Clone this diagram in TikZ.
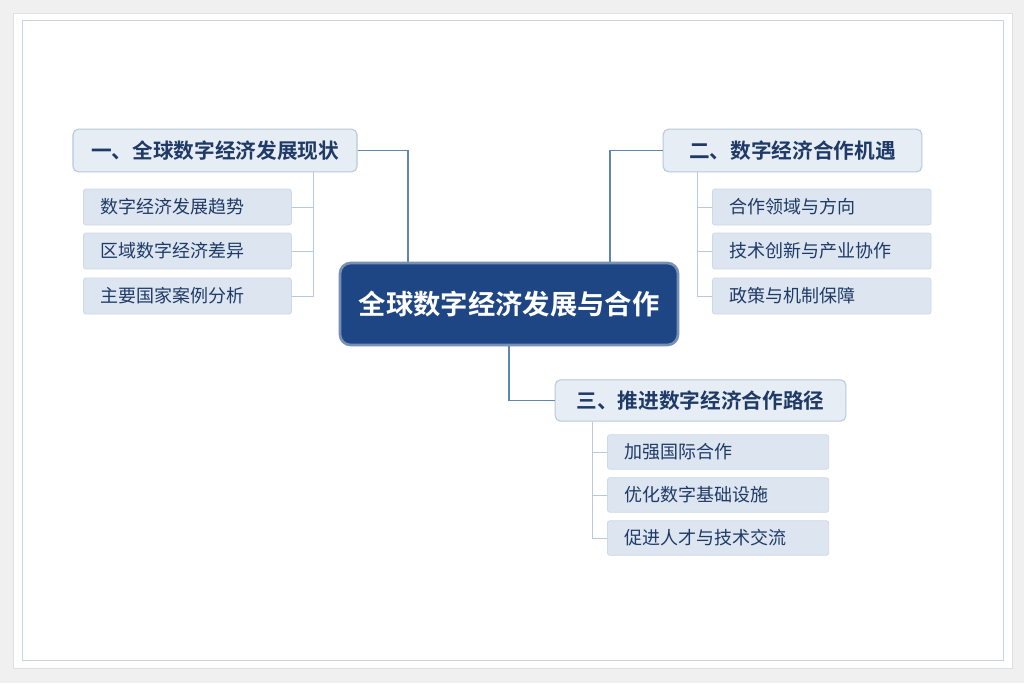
\documentclass[tikz,border=0pt]{standalone}
\usepackage{fontspec}
\setmainfont{Noto Sans CJK SC}
\newfontfamily\cjkbold{Noto Sans CJK SC Bold}
\definecolor{navy}{HTML}{1E4584}
\definecolor{ink}{HTML}{1F3A66}
\definecolor{boxfill}{HTML}{E6EDF5}
\definecolor{subfill}{HTML}{DCE5F0}
\definecolor{edge}{HTML}{B9C9DC}
\definecolor{wire}{HTML}{5F86AE}
\tikzset{
  mainbox/.style={draw=edge,fill=boxfill,rounded corners=4pt,line width=0.8pt,
    text=ink,font=\cjkbold\fontsize{15.5}{18}\selectfont},
  subbox/.style={draw=edge!70,fill=subfill,rounded corners=2pt,line width=0.6pt,
    text=ink,font=\fontsize{13.5}{16}\selectfont,anchor=west,inner xsep=13pt},
  wireline/.style={draw=wire,line width=0.8pt},
  twig/.style={draw=edge,line width=0.7pt}
}
\begin{document}
\begin{tikzpicture}[x=0.75pt,y=-0.75pt]
  \useasboundingbox (0,0) rectangle (1024,683);
  \fill[color=gray!12] (0,0) rectangle (1024,683);
  \draw[fill=white,draw=gray!25] (13,13) rectangle (1012,668);
  \draw[draw=edge!80] (22,20) rectangle (1003,660);
  % centre
  \node (core) [draw=navy!60,line width=2pt,fill=navy,rounded corners=8pt,
    minimum width=253.5pt,minimum height=61.5pt,text=white,
    font=\cjkbold\fontsize{20.5}{24}\selectfont] at (509,304) {全球数字经济发展与合作};
  % branches
  \node (b1) [mainbox,minimum width=213pt,minimum height=32pt] at (215,150.5) {一、全球数字经济发展现状};
  \node (b2) [mainbox,minimum width=194pt,minimum height=32pt] at (792.5,150.5) {二、数字经济合作机遇};
  \node (b3) [mainbox,minimum width=218pt,minimum height=31pt] at (700.5,400.5) {三、推进数字经济合作路径};
  % leaves
  \foreach \name/\txt/\yy in {s11/数字经济发展趋势/207,s12/区域数字经济差异/251,s13/主要国家案例分析/296}
    \node (\name) [subbox,minimum width=156pt,minimum height=27pt,text width=130pt] at (83,\yy) {\txt};
  \foreach \name/\txt/\yy in {s21/合作领域与方向/207,s22/技术创新与产业协作/251,s23/政策与机制保障/296}
    \node (\name) [subbox,minimum width=164pt,minimum height=27pt,text width=138pt] at (712,\yy) {\txt};
  \foreach \name/\txt/\yy in {s31/加强国际合作/452,s32/优化数字基础设施/495,s33/促进人才与技术交流/538}
    \node (\name) [subbox,minimum width=166pt,minimum height=26pt,text width=140pt] at (607,\yy) {\txt};
  % connectors
  \draw[wireline] (b1.east) -| (core.north -| 408,0);
  \draw[wireline] (b2.west) -| (core.north -| 610,0);
  \draw[wireline] (core.south) |- (b3.west);
  \draw[twig] (b1.south -| 313,0) |- (s13.east);
  \draw[twig] (s11.east) -- (s11.east -| 313,0);
  \draw[twig] (s12.east) -- (s12.east -| 313,0);
  \draw[twig] (b2.south -| 697,0) |- (s23.west);
  \draw[twig] (s21.west) -- (s21.west -| 697,0);
  \draw[twig] (s22.west) -- (s22.west -| 697,0);
  \draw[twig] (b3.south -| 592,0) |- (s33.west);
  \draw[twig] (s31.west) -- (s31.west -| 592,0);
  \draw[twig] (s32.west) -- (s32.west -| 592,0);
\end{tikzpicture}
\end{document}
